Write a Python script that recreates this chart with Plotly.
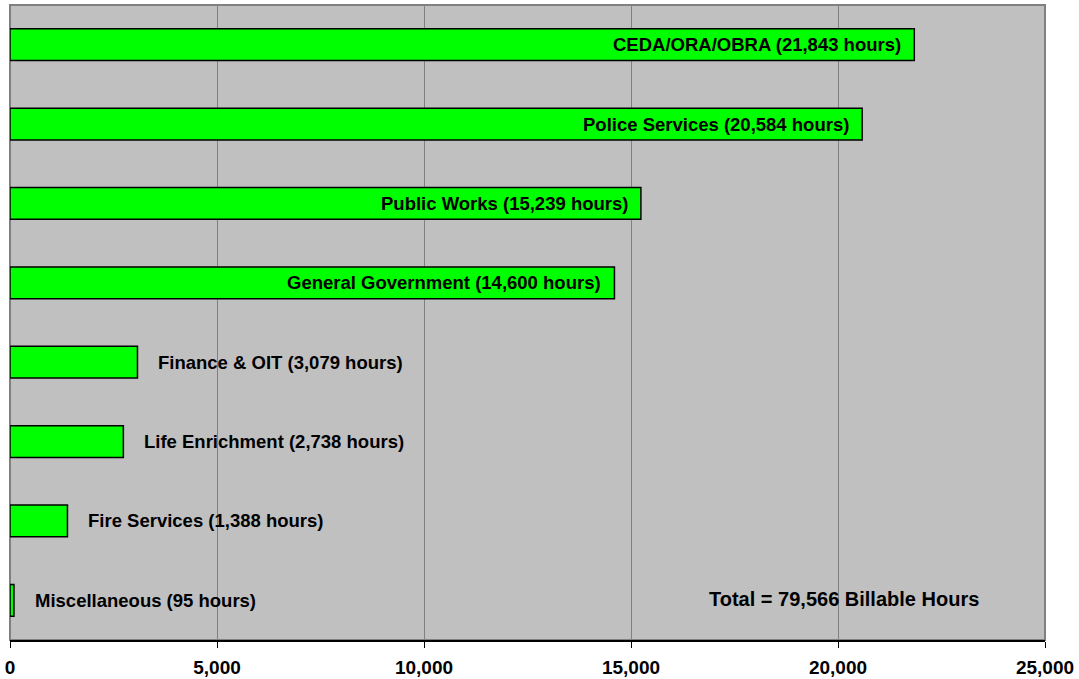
import plotly.graph_objects as go

# Billable hours by department
departments = [
    "CEDA/ORA/OBRA",
    "Police Services",
    "Public Works",
    "General Government",
    "Finance & OIT",
    "Life Enrichment",
    "Fire Services",
    "Miscellaneous",
]
hours = [21843, 20584, 15239, 14600, 3079, 2738, 1388, 95]
total_hours = 79566
x_ticks = [0, 5000, 10000, 15000, 20000, 25000]

FONT = "Liberation Sans, Arial, sans-serif"
INSIDE_MIN = 10000  # long bars carry their label inside

fig = go.Figure()
fig.add_trace(go.Bar(
    y=departments,
    x=hours,
    orientation="h",
    width=0.4,
    marker=dict(color="#00FF00", line=dict(color="#000000", width=1.5)),
    hoverinfo="skip",
))

annotations = []
for name, val in zip(departments, hours):
    text = f"<b>{name} ({val:,} hours)</b>"
    inside = val >= INSIDE_MIN
    annotations.append(dict(
        x=val, y=name, xref="x", yref="y",
        text=text, showarrow=False,
        xanchor="right" if inside else "left",
        xshift=-11 if inside else 19,
        font=dict(family=FONT, size=18.5, color="#000000"),
    ))

annotations.append(dict(
    x=20150, y=departments[-1], xref="x", yref="y",
    text=f"<b>Total = {total_hours:,} Billable Hours</b>",
    showarrow=False, xanchor="center", yshift=1,
    font=dict(family=FONT, size=20, color="#000000"),
))

fig.update_layout(
    width=1079, height=679,
    margin=dict(l=10, r=34, t=5, b=39),
    paper_bgcolor="#FFFFFF",
    plot_bgcolor="#C0C0C0",
    showlegend=False,
    bargap=0.6,
    annotations=annotations,
    shapes=[dict(
        type="rect", xref="paper", yref="paper",
        x0=0, x1=1, y0=0, y1=1,
        line=dict(color="#808080", width=2), layer="below",
    )],
)

fig.update_xaxes(
    range=[0, 25000],
    tickvals=x_ticks,
    ticktext=[f"<b>{v:,}</b>" for v in x_ticks],
    tickfont=dict(family=FONT, size=19, color="#000000"),
    ticklabelstandoff=3,
    automargin=False,
    showgrid=True, gridcolor="#808080", gridwidth=1,
    showline=True, linecolor="#000000", linewidth=1.5,
    ticks="outside", ticklen=6, tickcolor="#000000", tickwidth=1,
    zeroline=False,
)
fig.update_yaxes(
    autorange="reversed",
    automargin=False,
    showticklabels=False,
    showgrid=False, zeroline=False,
    showline=False,
)

fig.write_html("out.html")
